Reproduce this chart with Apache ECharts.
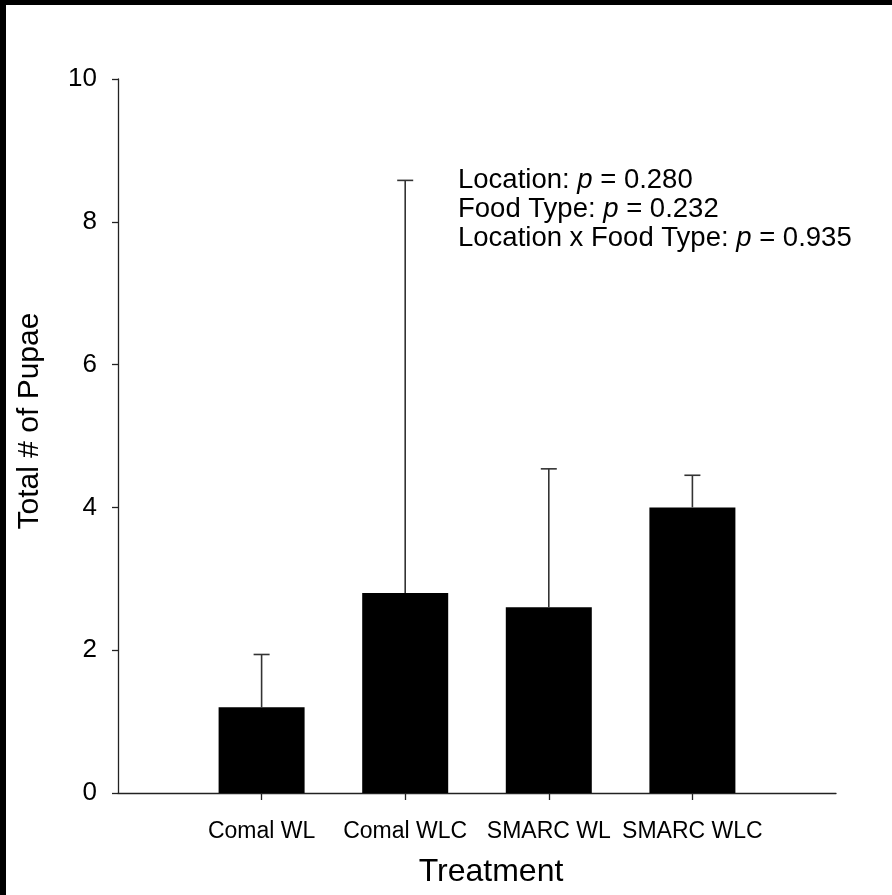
<!DOCTYPE html>
<html>
<head>
<meta charset="utf-8">
<script src="https://cdn.jsdelivr.net/npm/echarts@6/dist/echarts.min.js"></script>
<style>
html,body{margin:0;padding:0;background:#fff;}
#chart{width:892px;height:895px;}
</style>
</head>
<body>
<div id="chart"></div>
<script>
var categories = ['Comal WL', 'Comal WLC', 'SMARC WL', 'SMARC WLC'];
var means = [1.2, 2.8, 2.6, 4.0];
var stdErrors = [0.74, 5.78, 1.94, 0.45];
var yTicks = [0, 2, 4, 6, 8, 10];
var statLines = [
  ['Location: ', 'p', ' = 0.280'],
  ['Food Type: ', 'p', ' = 0.232'],
  ['Location x Food Type: ', 'p', ' = 0.935']
];

var FONT = '"Liberation Sans", Arial, sans-serif';
// padded category axis: blank slots at both ends
var axisCats = [''].concat(categories).concat(['']);
var barData = ['-'].concat(means).concat(['-']);
var errData = means.map(function (m, i) { return [i + 1, m, m + stdErrors[i]]; });

var chart = echarts.init(document.getElementById('chart'), null, {renderer: 'canvas'});
var option = {
  backgroundColor: '#ffffff',
  animation: false,
  grid: {left: 118, right: 56, top: 79, bottom: 102, containLabel: false},
  xAxis: {
    type: 'category',
    data: axisCats,
    boundaryGap: false,
    axisLine: {lineStyle: {color: '#222', width: 1.3}},
    axisTick: {
      length: 7, lineStyle: {color: '#222', width: 1.3},
      interval: function (i) { return i > 0 && i < axisCats.length - 1; }
    },
    axisLabel: {
      interval: function (i) { return i > 0 && i < axisCats.length - 1; },
      fontFamily: FONT, fontSize: 23, color: '#000', margin: 27
    },
    splitLine: {show: false}
  },
  yAxis: {
    type: 'value',
    min: yTicks[0], max: yTicks[yTicks.length - 1], interval: yTicks[1] - yTicks[0],
    axisLine: {show: true, lineStyle: {color: '#222', width: 1.3}},
    axisTick: {show: true, length: 6, lineStyle: {color: '#222', width: 1.3}},
    axisLabel: {fontFamily: FONT, fontSize: 26, color: '#000', margin: 21},
    splitLine: {show: false}
  },
  series: [
    {
      type: 'bar',
      data: barData,
      barWidth: 86,
      itemStyle: {color: '#000'},
      z: 2
    },
    {
      type: 'custom',
      data: errData,
      z: 3,
      renderItem: function (params, api) {
        var x = api.value(0);
        var base = api.coord([x, api.value(1)]);
        var top = api.coord([x, api.value(2)]);
        var half = 8;
        var st = {stroke: '#333', lineWidth: 1.6};
        return {
          type: 'group',
          children: [
            {type: 'line', shape: {x1: base[0], y1: base[1], x2: top[0], y2: top[1]}, style: st},
            {type: 'line', shape: {x1: top[0] - half, y1: top[1], x2: top[0] + half, y2: top[1]}, style: st}
          ]
        };
      }
    }
  ],
  graphic: [
    {type: 'rect', left: 0, top: 0, shape: {width: 892, height: 5}, style: {fill: '#000'}, z: 100},
    {type: 'rect', left: 0, top: 0, shape: {width: 6, height: 895}, style: {fill: '#000'}, z: 100},
    {
      type: 'text', x: 30, y: 421, rotation: Math.PI / 2, z: 10,
      style: {text: 'Total # of Pupae', font: '30px ' + FONT, fill: '#000', align: 'center', verticalAlign: 'middle'}
    },
    {
      type: 'text', x: 491, y: 872, z: 10,
      style: {text: 'Treatment', font: '32px ' + FONT, fill: '#000', align: 'center', verticalAlign: 'middle'}
    }
  ].concat(statLines.map(function (ln, i) {
    return {
      type: 'text', x: 458, y: 180 + i * 29, z: 10,
      style: {
        text: '{a|' + ln[0] + '}{i|' + ln[1] + '}{a|' + ln[2] + '}',
        verticalAlign: 'middle',
        rich: {
          a: {fontFamily: FONT, fontSize: 27.5, fill: '#000', color: '#000'},
          i: {fontFamily: FONT, fontSize: 27.5, fontStyle: 'italic', fill: '#000', color: '#000'}
        }
      }
    };
  }))
};
chart.setOption(option);
</script>
</body>
</html>
